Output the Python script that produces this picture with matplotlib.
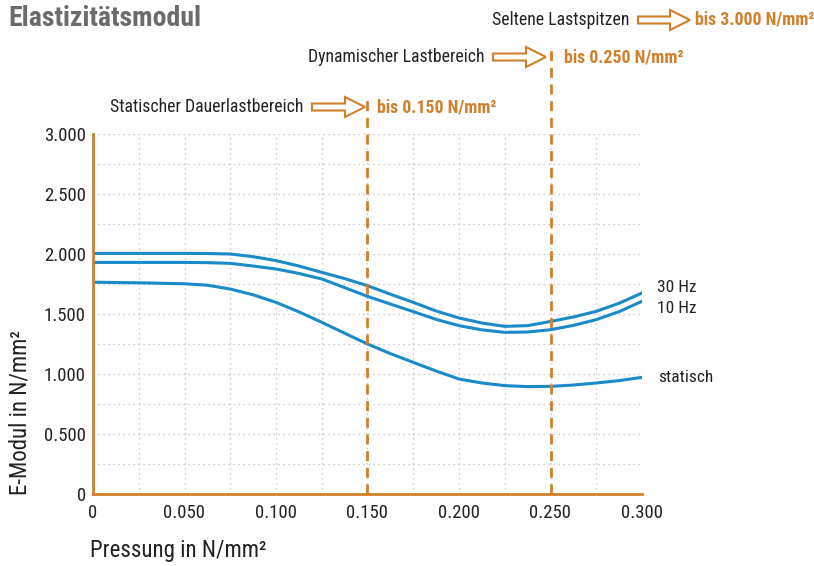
import numpy as np
import matplotlib
matplotlib.use("Agg")
import matplotlib.pyplot as plt
from matplotlib.patches import FancyArrow

plt.rcParams['font.family'] = ['Roboto Condensed', 'Roboto', 'DejaVu Sans']

#-------------------------------
# DATA
#-------------------------------
pressure = [0, 0.025, 0.05, 0.0625, 0.075, 0.0875, 0.1, 0.1125, 0.125, 0.1375, 0.15, 0.1625,
            0.175, 0.1875, 0.2, 0.2125, 0.225, 0.2375, 0.25, 0.2625, 0.275, 0.2875, 0.3]
hz30 = [2005, 2005, 2005, 2004, 2000, 1978, 1945, 1900, 1847, 1795, 1736, 1665,
        1597, 1525, 1467, 1425, 1397, 1403, 1438, 1475, 1522, 1590, 1675]
hz10 = [1930, 1930, 1930, 1928, 1922, 1900, 1875, 1838, 1792, 1720, 1647, 1583,
        1520, 1455, 1403, 1368, 1347, 1350, 1369, 1405, 1453, 1520, 1606]
statisch = [1765, 1760, 1752, 1740, 1708, 1660, 1597, 1518, 1431, 1340, 1250, 1170,
            1097, 1025, 958, 925, 903, 895, 897, 908, 925, 945, 972]

x_ticks = [0, 0.05, 0.1, 0.15, 0.2, 0.25, 0.3]
x_labels = ["0", "0.050", "0.100", "0.150", "0.200", "0.250", "0.300"]
y_ticks = [0, 500, 1000, 1500, 2000, 2500, 3000]
y_labels = ["0", "0.500", "1.000", "1.500", "2.000", "2.500", "3.000"]

limits = [0.15, 0.25]
limit_tops = [3330, 3745]

blue = "#1a8ac8"
orange = "#d17f2b"

#-------------------------------
# FIGURE
#-------------------------------
fig = plt.figure(figsize=(8.14, 5.66), dpi=100)
ax = fig.add_axes([93/814, 1-494/566, 549/814, 360/566])

ax.set_xlim(0, 0.3)
ax.set_ylim(0, 3000)

for s in ["top", "right"]:
    ax.spines[s].set_visible(False)
for s in ["left", "bottom"]:
    ax.spines[s].set_color(orange)
    ax.spines[s].set_linewidth(2)

ax.set_xticks(np.arange(0, 0.3001, 0.025), minor=True)
ax.set_yticks(np.arange(0, 3001, 250), minor=True)
ax.grid(which="both", color="#bbbbbb", linestyle=(0, (1, 3)), linewidth=0.9)
ax.set_axisbelow(True)

ax.set_xticks(x_ticks)
ax.set_xticklabels(x_labels)
ax.set_yticks(y_ticks)
ax.set_yticklabels(y_labels)
ax.tick_params(which="both", length=0, labelsize=13.5, colors="#222222")
ax.tick_params(axis="x", pad=7)
ax.tick_params(axis="y", pad=5)

ax.plot(pressure, hz30, color=blue, lw=2.2)
ax.plot(pressure, hz10, color=blue, lw=2.2)
ax.plot(pressure, statisch, color=blue, lw=2.2)

ax.text(0.308, 1720, "30 Hz", fontsize=12.5, va="center", color="#222222")
ax.text(0.308, 1545, "10 Hz", fontsize=12.5, va="center", color="#222222")
ax.text(0.309, 970, "statisch", fontsize=12.5, va="center", color="#222222")

for xv, top in zip(limits, limit_tops):
    ax.plot([xv, xv], [0, top], color=orange, lw=2, linestyle=(0, (3.6, 2.4)), clip_on=False)

fig.text(20/814, 1-413/566, "E-Modul in N/mm²", fontsize=16.5, color="#222222",
         rotation=90, ha="center", va="center")
fig.text(90/814, 1-550/566, "Pressung in N/mm²", fontsize=16.5, color="#222222", va="center")

fig.text(8/814, 1-18/566, "Elastizitätsmodul", fontsize=20, fontweight="bold", color="#6b6b6b", va="center")

#-------------------------------
# ANNOTATIONS
#-------------------------------
notes = [
    ("Statischer Dauerlastbereich", 303, 107, 312, 365, "bis 0.150 N/mm²", 377),
    ("Dynamischer Lastbereich", 484, 57, 493, 546, "bis 0.250 N/mm²", 564),
    ("Seltene Lastspitzen", 629, 20, 638, 690, "bis 3.000 N/mm²", 695),
]
for label, lx, ly, ax0, ax1, bis, bx in notes:
    fig.text(lx/814, 1-ly/566, label, fontsize=12.8, ha="right", va="center", color="#222222")
    arr = FancyArrow(ax0/814, 1-ly/566, (ax1-ax0)/814, 0, width=7/566, head_width=20/566,
                     head_length=20/814, length_includes_head=True,
                     facecolor="white", edgecolor=orange, lw=1.5, transform=fig.transFigure)
    fig.patches.append(arr)
    fig.text(bx/814, 1-ly/566, bis, fontsize=12.8, fontweight="bold", ha="left", va="center", color=orange)

fig.savefig("out.png", dpi=100)
